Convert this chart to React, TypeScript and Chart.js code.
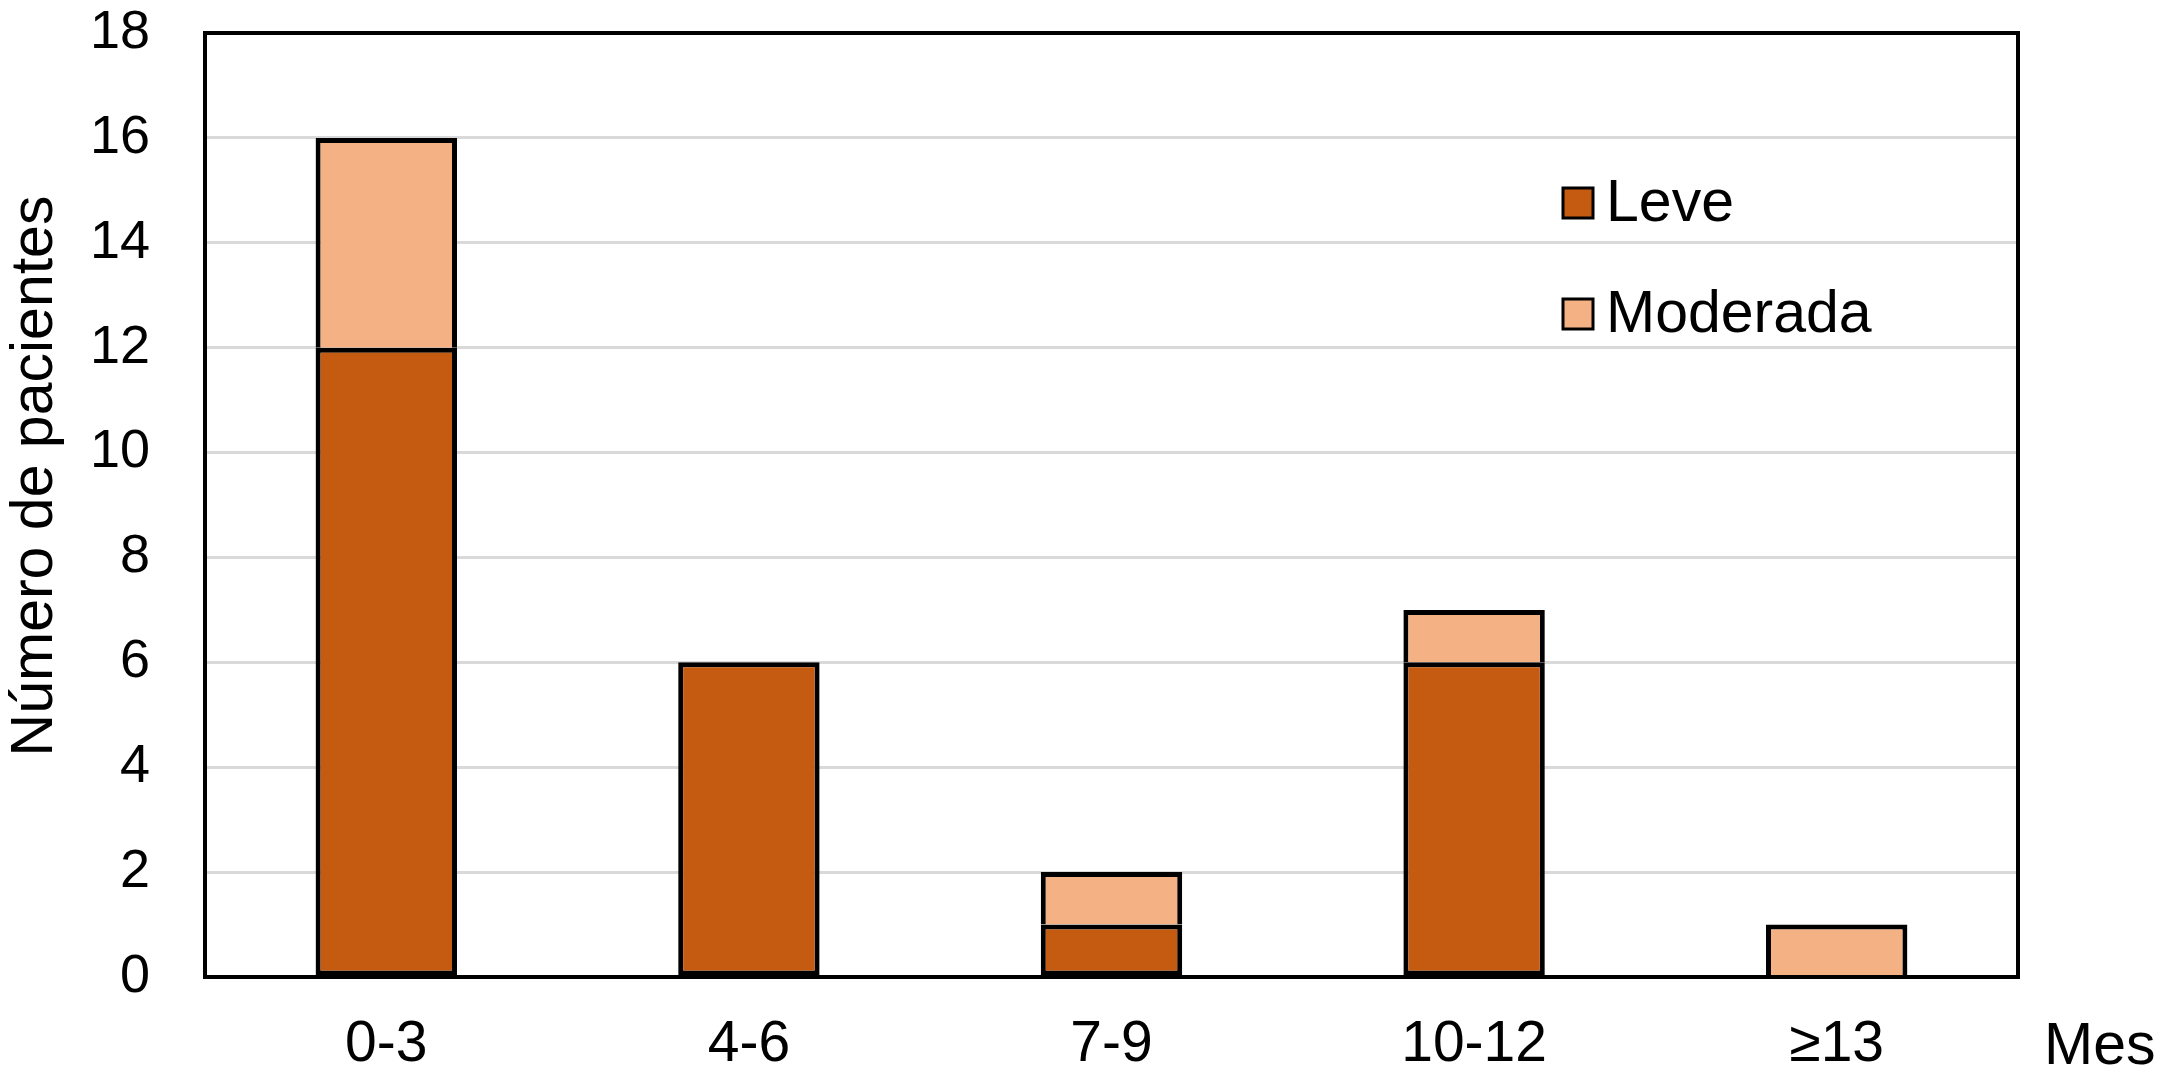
import React, { useEffect, useRef } from "react";
import { Chart, registerables } from "chart.js";

Chart.register(...registerables);

const categories = ["0-3", "4-6", "7-9", "10-12", "≥13"];
const leveValues = [12, 6, 1, 6, 0];
const moderadaValues = [4, 0, 1, 1, 1];
const seriesNames = ["Leve", "Moderada"];
const seriesColors = ["#C55A11", "#F4B183"];
const yAxisTitle = "Número de pacientes";
const xAxisTitle = "Mes";
const yMin = 0;
const yMax = 18;
const yStep = 2;

const FONT = "'Liberation Sans', Arial, Helvetica, sans-serif";

const W = 2167;
const H = 1085;
const BAR_BORDER = 5;

const decorPlugin = {
  id: "decor",
  afterDatasetsDraw(chart: any) {
    const { ctx, chartArea } = chart;
    ctx.save();
    // plot frame
    ctx.strokeStyle = "#000000";
    ctx.lineWidth = 4;
    ctx.strokeRect(chartArea.left, chartArea.top, chartArea.right - chartArea.left, chartArea.bottom - chartArea.top);

    // legend
    ctx.font = `59px ${FONT}`;
    ctx.textBaseline = "middle";
    ctx.textAlign = "left";
    const legendY = [203, 314];
    chart.data.datasets.forEach((ds: any, i: number) => {
      const cy = legendY[i];
      ctx.fillStyle = ds.backgroundColor;
      ctx.fillRect(1563, cy - 15, 30, 30);
      ctx.lineWidth = 3;
      ctx.strokeStyle = "#000000";
      ctx.strokeRect(1563, cy - 15, 30, 30);
      ctx.fillStyle = "#000000";
      ctx.fillText(ds.label, 1606, cy + 2);
    });

    // y axis title
    ctx.save();
    ctx.font = `59px ${FONT}`;
    ctx.fillStyle = "#000000";
    ctx.translate(36, 476);
    ctx.rotate(-Math.PI / 2);
    ctx.textAlign = "center";
    ctx.textBaseline = "middle";
    ctx.fillText(yAxisTitle, 0, 0);
    ctx.restore();

    // x axis title
    ctx.font = `59px ${FONT}`;
    ctx.fillStyle = "#000000";
    ctx.textAlign = "left";
    ctx.textBaseline = "middle";
    ctx.fillText(xAxisTitle, 2044, 1048);
    ctx.restore();
  },
};

export default function App() {
  const canvasRef = useRef<HTMLCanvasElement | null>(null);

  useEffect(() => {
    document.body.style.margin = "0";
    const canvas = canvasRef.current;
    if (!canvas) return;
    const chart = new Chart(canvas, {
      type: "bar",
      data: {
        labels: categories,
        datasets: [
          {
            label: seriesNames[0],
            data: leveValues,
            backgroundColor: seriesColors[0],
            borderColor: "#000000",
            borderWidth: leveValues.map((v) => (v === 0 ? 0 : BAR_BORDER)),
            borderSkipped: false,
            barPercentage: 0.39,
            categoryPercentage: 1,
          },
          {
            label: seriesNames[1],
            data: moderadaValues,
            backgroundColor: seriesColors[1],
            borderColor: "#000000",
            borderWidth: moderadaValues.map((v) => (v === 0 ? 0 : BAR_BORDER)),
            borderSkipped: "bottom",
            barPercentage: 0.39,
            categoryPercentage: 1,
          },
        ],
      } as any,
      options: {
        responsive: false,
        animation: false,
        devicePixelRatio: 1,
        layout: { padding: { left: 0, right: 149, top: 33, bottom: 0 } },
        plugins: {
          legend: { display: false },
          tooltip: { enabled: false },
          title: { display: false },
        },
        scales: {
          x: {
            stacked: true,
            grid: { display: false, drawTicks: false },
            border: { display: false },
            ticks: {
              color: "#000000",
              font: { family: FONT, size: 57 },
              padding: 34,
              maxRotation: 0,
              autoSkip: false,
            },
            afterFit: (scale: any) => {
              scale.height = 108;
              scale.paddingLeft = 0;
              scale.paddingRight = 0;
            },
          },
          y: {
            stacked: true,
            min: yMin,
            max: yMax,
            grid: { color: "#D9D9D9", lineWidth: 3, drawTicks: false },
            border: { display: false },
            ticks: {
              stepSize: yStep,
              color: "#000000",
              font: { family: FONT, size: 54 },
              padding: 55,
            },
            afterFit: (scale: any) => {
              scale.width = 205;
              scale.paddingTop = 0;
              scale.paddingBottom = 0;
            },
          },
        },
      } as any,
      plugins: [decorPlugin],
    });
    return () => chart.destroy();
  }, []);

  return (
    <div style={{ position: "absolute", left: 0, top: 0, width: W, height: H, background: "#ffffff" }}>
      <canvas ref={canvasRef} width={W} height={H} style={{ display: "block" }} />
    </div>
  );
}
